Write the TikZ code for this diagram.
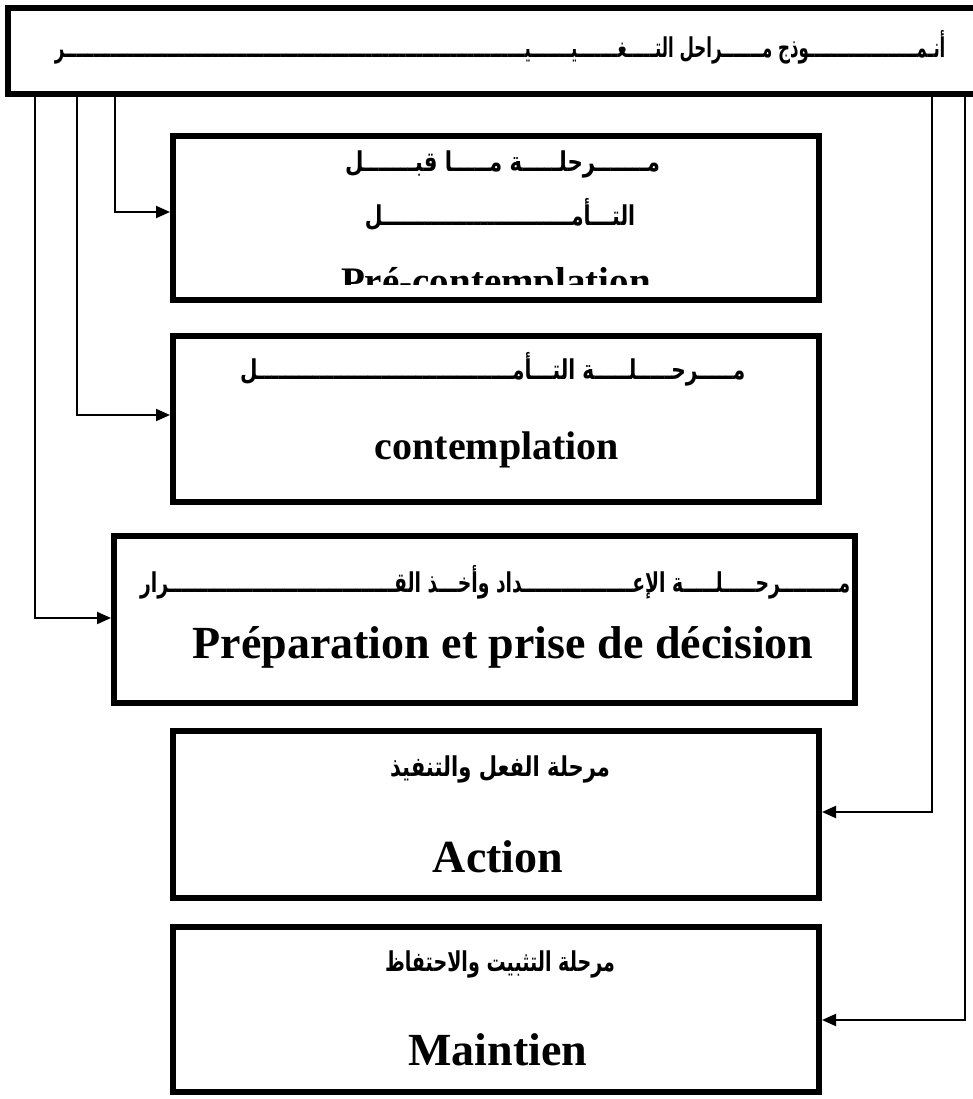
\documentclass[tikz,border=0pt]{standalone}
\usepackage{fontspec}
\setmainfont{Liberation Serif}
\newfontfamily\arabicfont[Script=Arabic]{DejaVu Sans}
\TeXXeTstate=1
\usetikzlibrary{arrows.meta}
% Arabic label set to a given width, stretched upwards a little
\newcommand{\arfit}[2]{\resizebox{#1}{1.3\height}{#2}}
\begin{document}
\begin{tikzpicture}[x=1pt,y=-1pt,
  stagebox/.style={draw,line width=6pt,inner sep=0pt},
  conn/.style={line width=2pt,-{Triangle[length=14pt,width=12pt]}},
  artext/.style={font=\arabicfont\bfseries\fontsize{21}{24}\selectfont,inner sep=0pt},
  frtext/.style={font=\bfseries\fontsize{46}{50}\selectfont,inner sep=0pt,anchor=base}]
\useasboundingbox (0,0) rectangle (973,1099);
\clip (0,0) rectangle (973,1099);

% title box (runs past the right edge)
\node[stagebox,minimum width=974pt,minimum height=86pt] (title) at (495,51) {};
\node[artext] (t0) at (500,47) {\arfit{890pt}{\beginR أنـمـــــــــــــــــــوذج مـــــــراحل التـــــغـــــــيـــــــيـــــــــــــــــــــــــــــــــــــــــــــــــــــــــــــــــــــــــــــــــر\endR}};

% stage boxes
\node[stagebox,minimum width=646pt,minimum height=164pt] (s1) at (496,218) {};
\node[stagebox,minimum width=646pt,minimum height=166pt] (s2) at (496,419) {};
\node[stagebox,minimum width=741pt,minimum height=167pt] (s3) at (484.5,619.5) {};
\node[stagebox,minimum width=646pt,minimum height=167pt] (s4) at (496,814.5) {};
\node[stagebox,minimum width=646pt,minimum height=165pt] (s5) at (496,1009.5) {};

% stage 1
\node[artext] (a1) at (502.5,164) {\arfit{315pt}{\beginR مـــــــرحلـــــة مـــــا قبـــــــل\endR}};
\node[artext] (b1) at (500,214) {\arfit{270pt}{\beginR التـــأمـــــــــــــــــــــــــــل\endR}};
\begin{scope}
  \clip (171,136) rectangle (821,284);
  \node[frtext,font=\bfseries\fontsize{39}{42}\selectfont] (f1) at (496,294) {Pré-contemplation};
\end{scope}

% stage 2
\node[artext] (a2) at (492.5,369) {\arfit{505pt}{\beginR مـــــرحـــــلـــــة التـــأمـــــــــــــــــــــــــــــــــــــل\endR}};
\node[frtext,font=\bfseries\fontsize{40}{44}\selectfont] (f2) at (497,459) {contemplation};

% stage 3
\node[artext] (a3) at (495,582) {\arfit{710pt}{\beginR مـــــــــرحـــــلـــــة الإعـــــــــــــــــداد وأخـــذ القـــــــــــــــــــــــــــــــــــرار\endR}};
\node[frtext] (f3) at (503,658) {Préparation et prise de décision};

% stage 4
\node[artext] (a4) at (500,769) {\arfit{220pt}{\beginR مرحلة الفعل والتنفيذ\endR}};
\node[frtext] (f4) at (498,872) {Action};

% stage 5
\node[artext] (a5) at (500,964) {\arfit{230pt}{\beginR مرحلة التثبيت والاحتفاظ\endR}};
\node[frtext] (f5) at (498,1065) {Maintien};

% elbow points of the connectors
\coordinate (k1) at (115,212);
\coordinate (k2) at (77,415);
\coordinate (k3) at (35,618);
\coordinate (k4) at (932,812);
\coordinate (k5) at (965,1020);

\draw[conn] (title.south -| k1) -- (k1) -- (s1.west |- k1);
\draw[conn] (title.south -| k2) -- (k2) -- (s2.west |- k2);
\draw[conn] (title.south -| k3) -- (k3) -- (s3.west |- k3);
\draw[conn] (title.south -| k4) -- (k4) -- (s4.east |- k4);
\draw[conn] (title.south -| k5) -- (k5) -- (s5.east |- k5);
\end{tikzpicture}
\end{document}
